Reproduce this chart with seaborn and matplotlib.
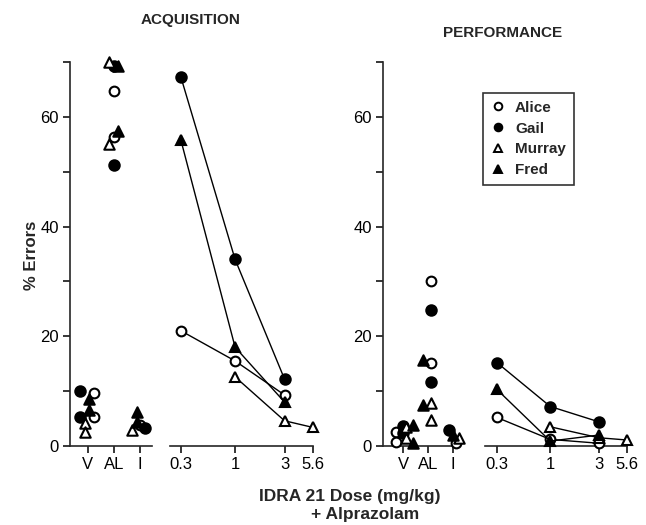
import numpy as np
import pandas as pd
import matplotlib
matplotlib.use("Agg")
import matplotlib.pyplot as plt
from matplotlib.lines import Line2D
import seaborn as sns

# ---------------- data ----------------
subjects = ["Alice", "Gail", "Murray", "Fred"]
control_labels = ["V", "AL", "I"]
dose_ticks = [0.3, 1, 3, 5.6]
dose_tick_labels = ["0.3", "1", "3", "5.6"]

# Acquisition - control conditions (two determinations where present)
acq_V = {"Alice": [9.6, 5.2], "Gail": [10.0, 5.2], "Murray": [4.2, 2.6], "Fred": [8.5, 6.5]}
acq_AL = {"Alice": [64.8, 56.3], "Gail": [69.2, 51.2], "Murray": [70.0, 55.0], "Fred": [69.2, 57.5]}
acq_I = {"Alice": [3.8], "Gail": [3.3], "Murray": [3.0], "Fred": [6.2, 4.4]}

# Acquisition - IDRA 21 dose effects
acq_dose_x = {"Alice": [0.3, 1, 3], "Gail": [0.3, 1, 3], "Murray": [1, 3, 5.6], "Fred": [0.3, 1, 3]}
acq_dose_y = {"Alice": [21.0, 15.5, 9.3], "Gail": [67.2, 34.0, 12.2],
              "Murray": [12.6, 4.6, 3.4], "Fred": [55.7, 18.0, 8.0]}

# Performance - control conditions
perf_V = {"Alice": [2.5, 0.7], "Gail": [3.7, 2.4], "Murray": [3.5, 1.5], "Fred": [3.8, 0.6]}
perf_AL = {"Alice": [30.0, 15.1], "Gail": [24.8, 11.7], "Murray": [7.8, 4.7], "Fred": [15.7, 7.5]}
perf_I = {"Alice": [0.5], "Gail": [2.9], "Murray": [1.4], "Fred": [2.0]}

# Performance - IDRA 21 dose effects
perf_dose_x = {"Alice": [0.3, 1, 3], "Gail": [0.3, 1, 3], "Murray": [1, 3, 5.6], "Fred": [0.3, 1, 3]}
perf_dose_y = {"Alice": [5.2, 1.2, 0.5], "Gail": [15.2, 7.2, 4.4],
               "Murray": [3.5, 1.5, 1.1], "Fred": [10.3, 0.9, 2.0]}

# ---------------- styles ----------------
marker_of = {"Alice": "o", "Gail": "o", "Murray": "^", "Fred": "^"}
face_of = {"Alice": "white", "Gail": "black", "Murray": "white", "Fred": "black"}
size_of = {"Alice": 7, "Gail": 7.5, "Murray": 7.5, "Fred": 7.5}
# horizontal offsets of symbols within a control column (V, AL, I)
acq_jitter = {"Alice": [0.25, 0.0, 0.0], "Gail": [-0.3, 0.0, 0.2],
              "Murray": [-0.1, -0.2, -0.3], "Fred": [0.05, 0.15, -0.1]}
perf_jitter = {"Alice": [-0.3, 0.1, 0.1], "Gail": [0.0, 0.1, -0.15],
               "Murray": [0.1, 0.1, 0.25], "Fred": [0.4, -0.2, 0.0]}

sns.set_theme(style="ticks")
plt.rcParams["font.family"] = ["Liberation Sans", "DejaVu Sans"]
plt.rcParams["axes.linewidth"] = 1.2
plt.rcParams["xtick.major.width"] = 1.1
plt.rcParams["ytick.major.width"] = 1.1

W, H = 646, 525
fig = plt.figure(figsize=(W / 100, H / 100), dpi=100)

bottom = (H - 446) / H
height = (446 - 62) / H


def add_ax(left_px, width_px):
    return fig.add_axes([left_px / W, bottom, width_px / W, height])


def control_panel(ax, data_list, jitter, xlim):
    rows = []
    for ci, d in enumerate(data_list):
        for s in subjects:
            for v in d[s]:
                rows.append({"subject": s, "pos": ci + jitter[s][ci], "err": v})
    df = pd.DataFrame(rows)
    for s in subjects:
        sub = df[df.subject == s]
        sns.scatterplot(data=sub, x="pos", y="err", ax=ax, marker=marker_of[s],
                        s=size_of[s] ** 2, facecolor=face_of[s], edgecolor="black",
                        linewidth=1.5, clip_on=False, zorder=3, legend=False)
    ax.set_xlim(*xlim)
    ax.set_ylim(0, 70)
    ax.set_xticks(range(len(control_labels)))
    ax.set_xticklabels(control_labels, fontsize=12)
    ax.set_yticks(np.arange(0, 71, 10))
    ax.set_yticklabels(["0", "", "20", "", "40", "", "60", ""], fontsize=12)
    ax.tick_params(axis="both", direction="out", length=5, pad=3, colors="black")
    sns.despine(ax=ax)
    ax.set_xlabel("")
    ax.set_ylabel("")


def dose_panel(ax, xs, ys, xlim):
    ax.set_xscale("log")
    for s in subjects:
        df = pd.DataFrame({"dose": xs[s], "err": ys[s]})
        sns.lineplot(data=df, x="dose", y="err", ax=ax, estimator=None, sort=False,
                     color="black", linewidth=1.0, marker=marker_of[s],
                     markersize=size_of[s], markerfacecolor=face_of[s],
                     markeredgecolor="black", markeredgewidth=1.5, clip_on=False,
                     zorder=3, legend=False)
    ax.set_xlim(*xlim)
    ax.set_ylim(0, 70)
    ax.set_xticks(dose_ticks)
    ax.set_xticklabels(dose_tick_labels, fontsize=12)
    ax.minorticks_off()
    ax.set_yticks([])
    ax.tick_params(axis="x", direction="out", length=5, pad=3, colors="black")
    sns.despine(ax=ax, left=True)
    ax.set_xlabel("")
    ax.set_ylabel("")


# Acquisition
ax1 = add_ax(70, 82)
control_panel(ax1, [acq_V, acq_AL, acq_I], acq_jitter, (-0.69, 2.46))
ax2 = add_ax(170, 143)
dose_panel(ax2, acq_dose_x, acq_dose_y, (0.235, 5.65))

# Performance
ax3 = add_ax(383, 77)
control_panel(ax3, [perf_V, perf_AL, perf_I], perf_jitter, (-0.8, 2.28))
ax4 = add_ax(485, 142)
dose_panel(ax4, perf_dose_x, perf_dose_y, (0.229, 5.65))

# Titles and labels
fig.text(191 / W, 1 - 20 / H, "ACQUISITION", ha="center", va="center",
         fontsize=11, fontweight="bold")
fig.text(503 / W, 1 - 33 / H, "PERFORMANCE", ha="center", va="center",
         fontsize=11, fontweight="bold")
fig.text(31 / W, 1 - 255 / H, "% Errors", ha="center", va="center", rotation=90,
         fontsize=12, fontweight="bold")
fig.text(350 / W, 1 - 496 / H, "IDRA 21 Dose (mg/kg)", ha="center", va="center",
         fontsize=12.5, fontweight="bold")
fig.text(365 / W, 1 - 515 / H, "+ Alprazolam", ha="center", va="center",
         fontsize=12.5, fontweight="bold")

# Legend
handles = [Line2D([0], [0], linestyle="none", marker=marker_of[s], markersize=5.5,
                  markerfacecolor=face_of[s], markeredgecolor="black",
                  markeredgewidth=1.4) for s in subjects]
leg = fig.legend(handles, subjects, loc="upper left",
                 bbox_to_anchor=(483 / W, 1 - 93 / H), bbox_transform=fig.transFigure,
                 frameon=True, fancybox=False, handlelength=1.0, handletextpad=0.6,
                 labelspacing=0.45, borderpad=0.5, borderaxespad=0,
                 prop={"weight": "bold", "size": 11})
leg.get_frame().set_edgecolor("black")
leg.get_frame().set_linewidth(1.2)

fig.savefig("out.png", dpi=100)
